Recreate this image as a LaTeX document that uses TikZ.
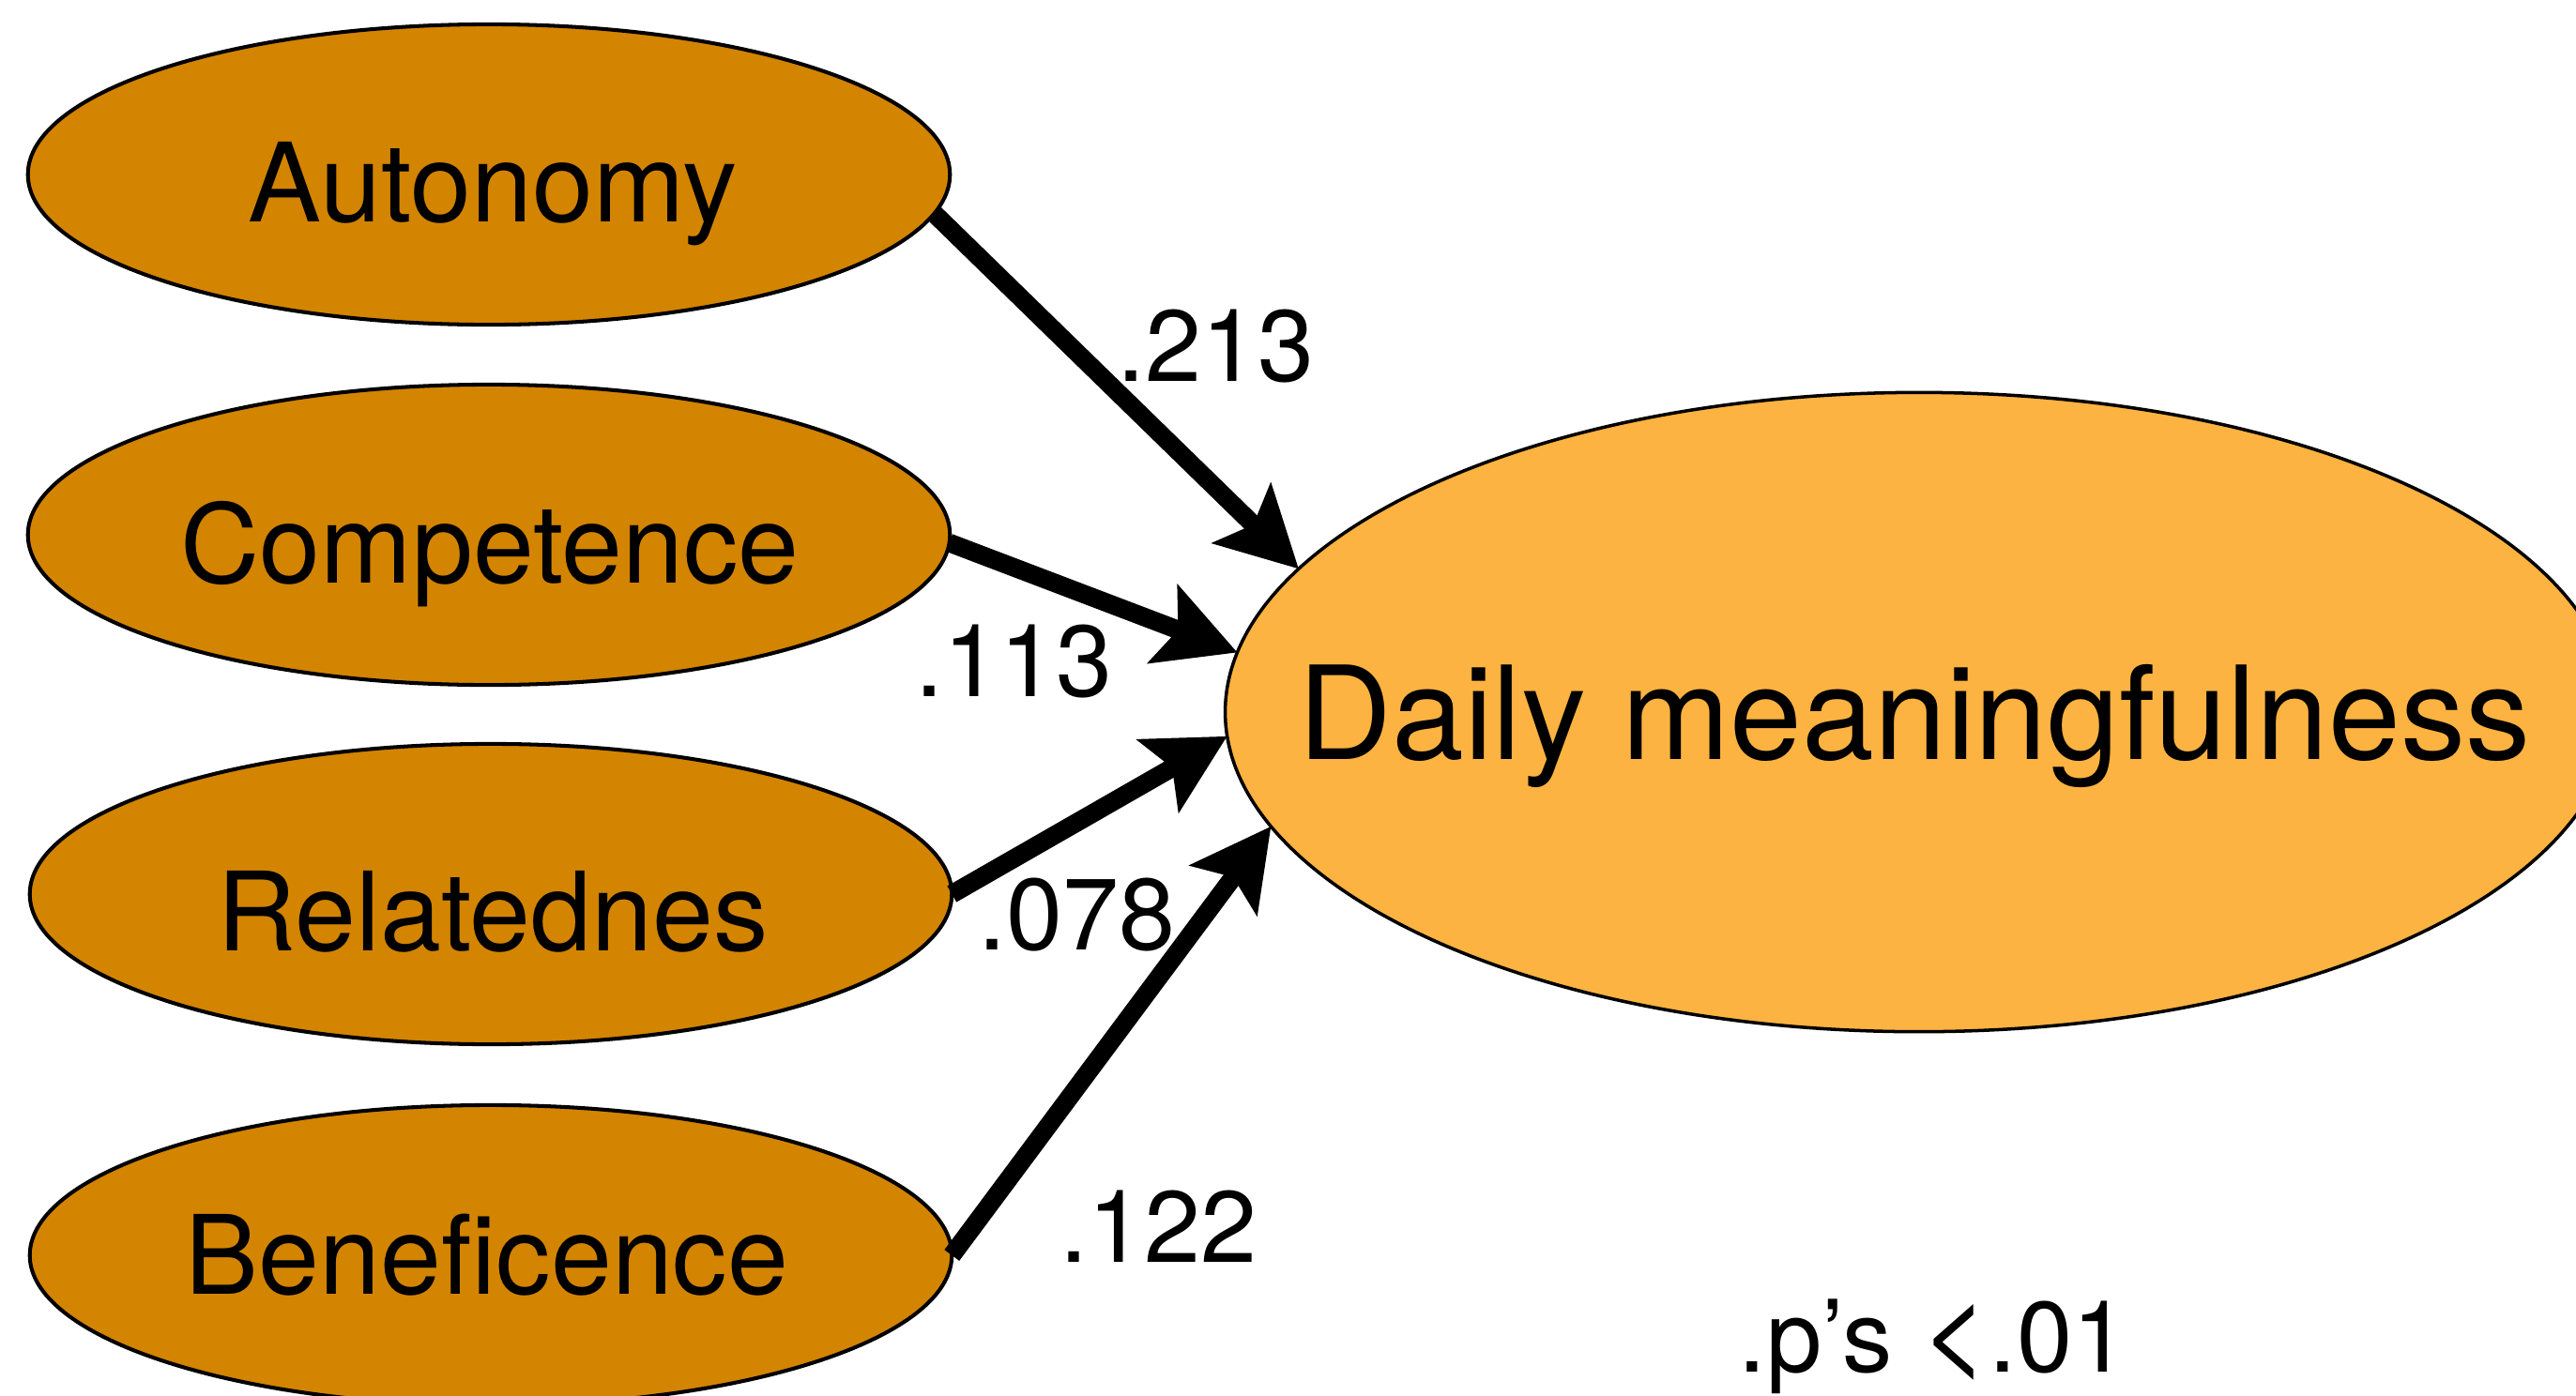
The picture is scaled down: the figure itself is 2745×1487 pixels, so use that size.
\documentclass[tikz,border=0pt]{standalone}
\usepackage{fontspec}
\setmainfont{TeX Gyre Heros}
\usetikzlibrary{arrows.meta,shapes.geometric}

\definecolor{needfill}{HTML}{D38400}
\definecolor{outfill}{HTML}{FDB341}

\tikzset{
  need/.style={ellipse, draw=black, line width=1.15pt, fill=needfill,
    minimum width=9.82cm, minimum height=3.2cm, inner sep=0pt, outer sep=0pt},
  outcome/.style={ellipse, draw=black, line width=1pt, fill=outfill,
    minimum width=14.78cm, minimum height=6.81cm, inner sep=0pt, outer sep=0pt},
  needtext/.style={anchor=base, inner sep=0pt, font=\fontsize{33.2}{40}\selectfont},
  outtext/.style={anchor=base, inner sep=0pt, font=\fontsize{39.3}{47}\selectfont},
  coef/.style={anchor=base west, inner sep=0pt, font=\fontsize{30.7}{37}\selectfont},
  path/.style={line width=5.6pt,
    -{Stealth[length=24pt, width=25pt, inset=4.8pt]}},
}

\begin{document}
\begin{tikzpicture}[x=0.01cm, y=-0.01cm]
  \useasboundingbox (0,0) rectangle (2745,1487);

  % predictor ellipses
  \node[need] (auto) at (521,186) {};
  \node[need] (comp) at (521,570) {};
  \node[need] (rel)  at (523,953) {};
  \node[need] (ben)  at (523,1338) {};

  % outcome ellipse
  \node[outcome] (dm) at (2045,759) {};

  % ellipse captions
  \node[needtext] (autoT) at (525,236)  {Autonomy};
  \node[needtext] (compT) at (522,621)  {Competence};
  \node[needtext] (relT)  at (525,1013) {Relatednes};
  \node[needtext] (benT)  at (519,1379) {Beneficence};
  \node[outtext]  (dmT)   at (2040,809) {Daily meaningfulness};

  % paths
  \draw[path] (auto.-5.7) -- (dm.167.8);
  \draw[path] (comp.-1.5) -- (dm.175.0);
  \draw[path] (rel.0)     -- (dm.182.6);
  \draw[path] (ben.0)     -- (dm.190.3);

  % coefficients
  \node[coef] (c1) at (1190,406)  {.213};
  \node[coef] (c2) at (975,742)   {.113};
  \node[coef] (c3) at (1042,1012) {.078};
  \node[coef] (c4) at (1129,1345) {.122};
  \node[coef, font=\fontsize{30.3}{36}\selectfont] (note) at (1852,1462)
    {.p’s {\fontsize{36}{40}\selectfont<}.01};
\end{tikzpicture}
\end{document}
